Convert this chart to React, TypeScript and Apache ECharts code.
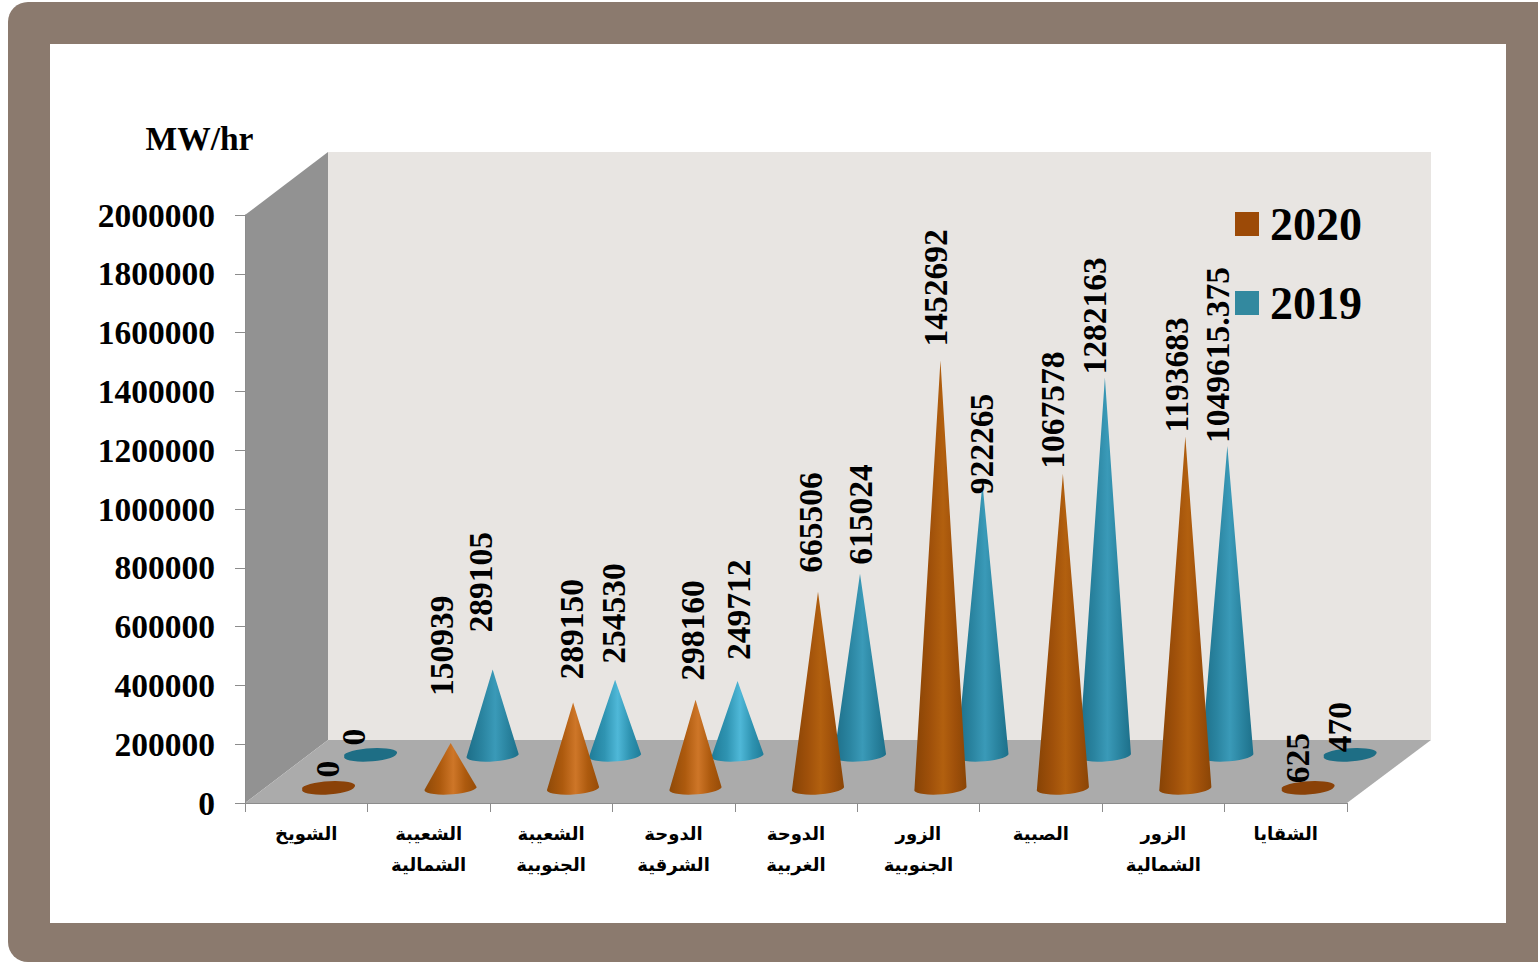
import React, { useEffect, useRef } from "react";
import * as echarts from "echarts";

const categories = [
  "الشويخ",
  "الشعيبة\nالشمالية",
  "الشعيبة\nالجنوبية",
  "الدوحة\nالشرقية",
  "الدوحة\nالغربية",
  "الزور\nالجنوبية",
  "الصبية",
  "الزور\nالشمالية",
  "الشقايا",
];
const values2020 = [0, 150939, 289150, 298160, 665506, 1452692, 1067578, 1193683, 625];
const values2019 = [0, 289105, 254530, 249712, 615024, 922265, 1282163, 1049615.375, 470];

// Hand-placed data label nudges of the original (pixels from each cone's tip)
const labelDx2020 = [1, -7, 0, -1, -6, -3, -8, -7, -8];
const labelGap2020 = [11, 48, 24, 20, 20, 15, 6, 5, 5];
const labelDx2019 = [-15, -10, 0, 3, 2, 1, -8, -8, -8];
const labelGap2019 = [10, 38, 17, 22, 10, -10, 4, 4, 3];

const SERIF = '"Liberation Serif", "Times New Roman", serif';
const ARABIC = '"DejaVu Sans", sans-serif';

const stops = (colors: string[], at: number[]) =>
  colors.map((color, i) => ({ offset: at[i], color }));

function coneRenderer(opts: {
  dx: number;
  dy: number;
  flat: string;
  ramp: string[];
  brightRamp: string[];
  brightBelow: number;
  labelDx: number[];
  labelGap: number[];
}) {
  const RX = 26;
  const RY = 6;
  const TILT = -4;
  const tiltDy = 2;
  return (_params: any, api: any) => {
    const idx = api.value(0);
    const val = api.value(1);
    const base = api.coord([idx, 0]);
    const top = api.coord([idx, val]);
    const cx = base[0] + opts.dx;
    const cy = base[1] + opts.dy;
    const tipY = top[1] + opts.dy;
    const lx = cx - RX;
    const ly = cy + tiltDy;
    const rx = cx + RX;
    const ry = cy - tiltDy;
    const children: any[] = [];
    const h = cy - tipY;
    if (h < 3) {
      children.push({
        type: "path",
        shape: {
          pathData: `M${lx} ${ly}A${RX} ${RY} ${TILT} 0 0 ${rx} ${ry}A${RX} ${RY} ${TILT} 0 0 ${lx} ${ly}Z`,
        },
        style: { fill: opts.flat },
      });
    } else {
      children.push({
        type: "path",
        shape: {
          pathData: `M${cx} ${tipY}L${lx} ${ly}A${RX} ${RY} ${TILT} 0 0 ${rx} ${ry}Z`,
        },
        style: {
          fill: new echarts.graphic.LinearGradient(
            0,
            0,
            1,
            0,
            stops(h < opts.brightBelow ? opts.brightRamp : opts.ramp, [0, 0.3, 0.55, 0.78, 1])
          ),
        },
      });
    }
    children.push({
      type: "text",
      x: cx + opts.labelDx[idx] - 2,
      y: tipY - opts.labelGap[idx] + 1,
      rotation: Math.PI / 2,
      z2: 10,
      style: {
        text: String(val),
        font: `bold 33.5px ${SERIF}`,
        fill: "#000",
        align: "left",
        verticalAlign: "middle",
      },
    });
    return { type: "group", children };
  };
}

export default function App() {
  const ref = useRef<HTMLDivElement>(null);
  useEffect(() => {
    document.body.style.margin = "0";
    const chart = echarts.init(ref.current!, null, { renderer: "svg" });
    chart.setOption({
      animation: false,
      backgroundColor: "transparent",
      grid: { left: 245, top: 215, width: 1102, height: 588 },
      graphic: [
        { type: "rect", z: -10, shape: { x: 8, y: 2, width: 1560, height: 960, r: 20 }, style: { fill: "#8B7A6E" } },
        { type: "rect", z: -9, shape: { x: 50, y: 44, width: 1456, height: 879 }, style: { fill: "#FFFFFF" } },
        { type: "polygon", z: -8, shape: { points: [[328, 152], [1431, 152], [1431, 740], [328, 740]] }, style: { fill: "#E8E5E2" } },
        { type: "polygon", z: -8, shape: { points: [[245, 215], [328, 152], [328, 740], [245, 803]] }, style: { fill: "#929292" } },
        { type: "polygon", z: -8, shape: { points: [[245, 803], [328, 740], [1431, 740], [1347, 803]] }, style: { fill: "#ABABAB" } },
      ],
      legend: {
        left: 1235,
        top: 192,
        padding: 0,
        orient: "vertical",
        data: ["2020", "2019"],
        icon: "rect",
        itemWidth: 24,
        itemHeight: 24,
        itemGap: 15,
        selectedMode: false,
        textStyle: {
          fontFamily: SERIF,
          fontWeight: "bold",
          fontSize: 46,
          color: "#000",
          padding: [0, 0, 18, 6],
          lineHeight: 46,
        },
      },
      xAxis: {
        type: "category",
        data: categories,
        boundaryGap: true,
        axisLine: { lineStyle: { color: "#8C8C8C", width: 1 } },
        axisTick: { show: true, alignWithLabel: false, length: 9, lineStyle: { color: "#8C8C8C" } },
        axisLabel: {
          interval: 0,
          margin: 15,
          fontFamily: ARABIC,
          fontWeight: "bold",
          fontSize: 18,
          lineHeight: 31,
          color: "#000",
        },
      },
      yAxis: {
        type: "value",
        min: 0,
        max: 2000000,
        interval: 200000,
        name: "MW/hr",
        nameLocation: "end",
        nameGap: 60,
        nameTextStyle: {
          fontFamily: SERIF,
          fontWeight: "bold",
          fontSize: 33.5,
          color: "#000",
          padding: [0, 91, 0, 0],
        },
        splitLine: { show: false },
        axisLine: { show: true, lineStyle: { color: "#8C8C8C", width: 1 } },
        axisTick: { show: true, length: 10, lineStyle: { color: "#8C8C8C" } },
        axisLabel: {
          margin: 30,
          fontFamily: SERIF,
          fontWeight: "bold",
          fontSize: 33.5,
          color: "#000",
          formatter: (v: number) => String(v),
        },
      },
      series: [
        {
          name: "2019",
          type: "custom",
          z: 3,
          coordinateSystem: "cartesian2d",
          itemStyle: { color: "#33899F" },
          data: values2019.map((v, i) => [i, v]),
          encode: { x: 0, y: 1 },
          clip: false,
          renderItem: coneRenderer({
            dx: 64,
            dy: -48.5,
            flat: "#1E6E85",
            ramp: ["#1D6E88", "#2A84A0", "#3A9AB8", "#2A84A0", "#1D708A"],
            brightRamp: ["#1F7C98", "#2F94B2", "#4FB8D8", "#2F94B2", "#1F7C98"],
            brightBelow: 80,
            labelDx: labelDx2019,
            labelGap: labelGap2019,
          }),
        },
        {
          name: "2020",
          type: "custom",
          z: 4,
          coordinateSystem: "cartesian2d",
          itemStyle: { color: "#9C4A07" },
          data: values2020.map((v, i) => [i, v]),
          encode: { x: 0, y: 1 },
          clip: false,
          renderItem: coneRenderer({
            dx: 22,
            dy: -15.5,
            flat: "#8A4208",
            ramp: ["#874305", "#9F500A", "#B2600F", "#9F500A", "#8A4506"],
            brightRamp: ["#8F4A08", "#AD5A0E", "#CE7628", "#AD5A0E", "#964C08"],
            brightBelow: 100,
            labelDx: labelDx2020,
            labelGap: labelGap2020,
          }),
        },
      ],
    });
    return () => chart.dispose();
  }, []);
  return (
    <div
      ref={ref}
      style={{ position: "absolute", left: 0, top: 0, width: 1538, height: 962, overflow: "hidden" }}
    />
  );
}
